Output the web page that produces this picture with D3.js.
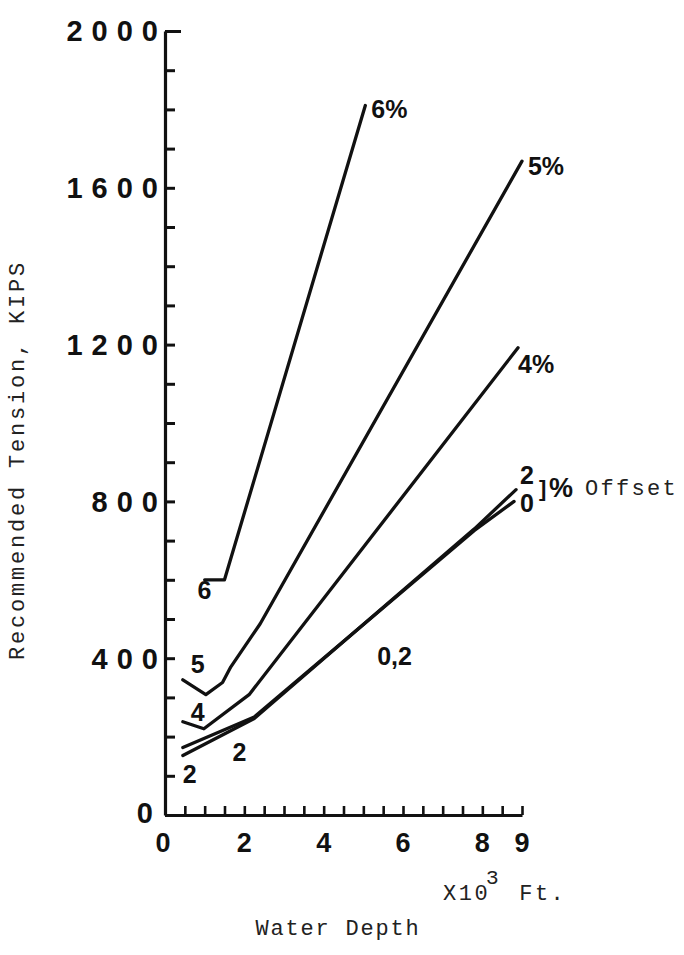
<!DOCTYPE html>
<html><head><meta charset="utf-8">
<script src="https://cdn.jsdelivr.net/npm/d3@7"></script>
<style>
body{margin:0;background:#fff;}
svg{display:block;}
.num{font-family:"Liberation Sans",Arial,sans-serif;font-weight:bold;fill:#111;}
.mono{font-family:"Liberation Mono","Courier New",monospace;fill:#222;}
</style></head>
<body>
<svg id="c" width="684" height="955"></svg>
<script>
// ---- data ----
const yTickLabels = [0, 400, 800, 1200, 1600, 2000];
const xTickLabels = [0, 2, 4, 6, 8, 9];
const offset6 = [[1.0, 600], [1.5, 600], [5.05, 1810]];
const offset5 = [[0.45, 345], [1.03, 307], [1.45, 338], [1.66, 378], [2.4, 488], [9.0, 1668]];
const offset4 = [[0.45, 238], [0.98, 220], [2.12, 307], [8.9, 1192]];
const offset0 = [[0.45, 172], [2.25, 250], [7.8, 726], [8.8, 800]];
const offset2 = [[0.45, 152], [2.25, 246], [7.8, 730], [8.85, 830]];
const seriesList = [offset6, offset5, offset4, offset0, offset2];
const lineLabels = [
  {t: "6%", x: 5.2, y: 1800},
  {t: "5%", x: 9.15, y: 1655},
  {t: "4%", x: 8.9, y: 1150},
  {t: "6", x: 0.82, y: 575},
  {t: "5", x: 0.65, y: 385},
  {t: "4", x: 0.65, y: 262},
  {t: "2", x: 0.45, y: 105},
  {t: "2", x: 1.7, y: 160},
  {t: "0,2", x: 5.35, y: 405},
  {t: "2", x: 8.95, y: 868},
  {t: "0", x: 8.95, y: 795}
];

const svg = d3.select("#c");
const x = d3.scaleLinear().domain([0, 9]).range([165, 522]);
const y = d3.scaleLinear().domain([0, 2000]).range([815, 31]);

// y axis minor ticks (pointing right)
const yAx = svg.append("g").attr("transform", `translate(${x(0)},0)`)
  .call(d3.axisRight(y).tickValues(d3.range(0, 2001, 100)).tickSize(10).tickSizeOuter(0).tickFormat(""));
yAx.select(".domain").attr("stroke", "#111").attr("stroke-width", 3.2);
yAx.selectAll(".tick line").attr("stroke", "#111").attr("stroke-width", 3)
  .attr("x2", d => d === 2000 ? 16 : 10);

// x axis minor ticks (pointing up)
const xAx = svg.append("g").attr("transform", `translate(0,${y(0)})`)
  .call(d3.axisTop(x).tickValues(d3.range(0.5, 9.01, 0.5)).tickSize(9).tickSizeOuter(0).tickFormat(""));
xAx.select(".domain").attr("stroke", "#111").attr("stroke-width", 3.2);
xAx.selectAll(".tick line").attr("stroke", "#111").attr("stroke-width", 2.6);

// y tick labels
svg.append("g").selectAll("text").data(yTickLabels).join("text")
  .attr("class", "num")
  .attr("x", d => d === 0 ? 153 : 158).attr("y", d => y(d) - (d === 0 ? 2 : 0)).attr("dy", "0.36em")
  .attr("text-anchor", "end").attr("font-size", 29).attr("letter-spacing", 9)
  .attr("dx", 9)
  .text(d => d);

// x tick labels
svg.append("g").selectAll("text").data(xTickLabels).join("text")
  .attr("class", "num")
  .attr("x", d => x(d) + (d === 0 ? -2 : 0)).attr("y", 852)
  .attr("text-anchor", "middle").attr("font-size", 27)
  .text(d => d);

// lines
const line = d3.line().x(d => x(d[0])).y(d => y(d[1]));
svg.append("g").selectAll("path").data(seriesList).join("path")
  .attr("d", line).attr("fill", "none").attr("stroke", "#111")
  .attr("stroke-width", 3.3).attr("stroke-linejoin", "round").attr("stroke-linecap", "round");

// line labels
svg.append("g").selectAll("text").data(lineLabels).join("text")
  .attr("class", "num")
  .attr("x", d => x(d.x)).attr("y", d => y(d.y)).attr("dy", "0.36em")
  .attr("text-anchor", "start").attr("font-size", 25)
  .text(d => d.t);

// offset bracket + text
svg.append("text").attr("class", "num").attr("x", 539).attr("y", 496)
  .attr("font-size", 22).attr("font-weight", "normal").text("]");
svg.append("text").attr("class", "num").attr("x", 549).attr("y", 497)
  .attr("font-size", 27).text("%");
svg.append("text").attr("class", "mono").attr("x", 585).attr("y", 495)
  .attr("font-size", 22).attr("letter-spacing", 2.3).text("Offset");

// axis titles
svg.append("text").attr("class", "mono")
  .attr("transform", "translate(24,460) rotate(-90)")
  .attr("text-anchor", "middle").attr("font-size", 22).attr("letter-spacing", 2.8)
  .text("Recommended Tension, KIPS");
svg.append("text").attr("class", "mono").attr("x", 338).attr("y", 935)
  .attr("text-anchor", "middle").attr("font-size", 22).attr("letter-spacing", 1.8)
  .text("Water Depth");
const xt = svg.append("text").attr("class", "mono").attr("x", 443).attr("y", 900)
  .attr("font-size", 22).attr("letter-spacing", 2.5);
xt.append("tspan").text("X10");
xt.append("tspan").attr("dy", -16).attr("dx", -4).attr("font-size", 21).text("3");
xt.append("tspan").attr("dy", 16).attr("dx", 18).text("Ft.");
</script>
</body></html>
